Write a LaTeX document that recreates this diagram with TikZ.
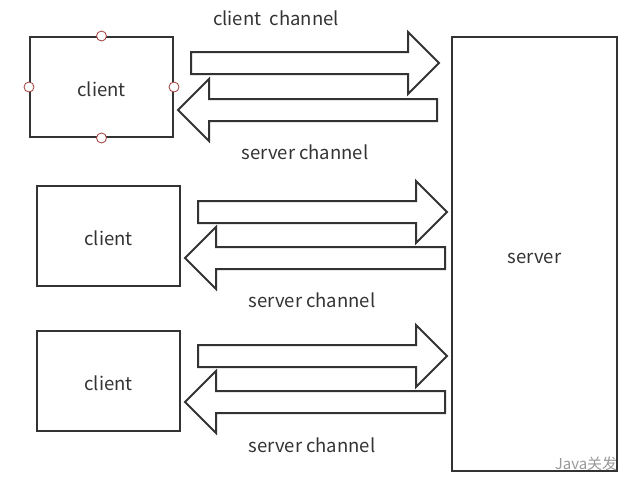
\documentclass[tikz,border=0pt]{standalone}
\usepackage{fontspec}
\setmainfont{Noto Sans CJK SC}
\usepackage{xcolor}
\usepackage{tikz}
\usetikzlibrary{shapes.arrows}

\definecolor{ink}{HTML}{333333}
\definecolor{handle}{HTML}{A03A3A}

\begin{document}
\begin{tikzpicture}[
  x=1pt, y=-1pt,
  font=\fontsize{18.5}{22}\selectfont,
  box/.style={draw=ink, line width=2pt, text=ink, inner sep=0pt, text height=19pt, text depth=0pt},
  handledot/.style={circle, draw=handle, fill=white, line width=0.8pt, minimum size=10pt, inner sep=0pt},
  fat/.style={single arrow, draw=ink, line width=2pt, fill=white, inner xsep=0pt, inner ysep=10pt,
    minimum width=60pt, single arrow head extend=20pt, single arrow tip angle=90},
  toserver/.style={fat, anchor=tail},
  toclient/.style={fat, shape border rotate=180, anchor=tail},
  label/.style={text=ink, inner sep=0pt}
]
\useasboundingbox (0,0) rectangle (640,493);

% clients and server
\node[box, minimum width=143pt, minimum height=100pt] (client1) at (101.5,87) {client};
\node[box, minimum width=143pt, minimum height=100pt] (client2) at (108.5,236) {client};
\node[box, minimum width=143pt, minimum height=100pt] (client3) at (108.5,381) {client};
\node[box, minimum width=165pt, minimum height=434pt] (server) at (534.5,254) {server};

% selection handles
\node[handledot] (hn) at (client1.north) {};
\node[handledot] (hs) at (client1.south) {};
\node[handledot] (hw) at (client1.west) {};
\node[handledot] (he) at (client1.east) {};

% channels
\node[toserver, minimum height=248pt] (up1) at (190,63) {};
\node[toclient, minimum height=259pt] (down1) at (438,110) {};
\node[toserver, minimum height=249pt] (up2) at (197,212) {};
\node[toclient, minimum height=260pt] (down2) at (446,258) {};
\node[toserver, minimum height=249pt] (up3) at (197,356) {};
\node[toclient, minimum height=260pt] (down3) at (446,402) {};

% labels
\node[label] (lab0) at (276,18) {client\ \ channel};
\node[label] (lab1) at (305,152) {server channel};
\node[label] (lab2) at (312,300) {server channel};
\node[label] (lab3) at (312,445) {server channel};

\node[text=black!40, font=\fontsize{15}{17}\selectfont, inner sep=0pt] (mark) at (586,464) {Java关发};
\end{tikzpicture}
\end{document}
